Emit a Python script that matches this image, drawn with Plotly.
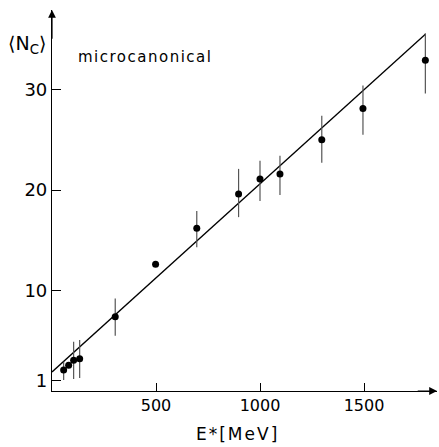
import plotly.graph_objects as go

# Data
energy = [56, 80, 104, 133, 304, 498, 696, 897, 1000, 1096, 1297, 1495, 1795]
n_c = [2.1, 2.55, 3.05, 3.2, 7.4, 12.6, 16.2, 19.6, 21.1, 21.6, 25.0, 28.1, 32.9]
err_plus = [0.8, 0, 1.85, 1.87, 1.8, 0, 1.7, 2.5, 1.8, 1.8, 2.4, 2.3, 2.7]
err_minus = [1.0, 0, 1.85, 1.9, 1.9, 0, 1.9, 2.3, 2.2, 2.1, 2.3, 2.6, 3.3]

line_e = [0, 1795]
line_n = [1.9, 35.5]

x_ticks = [500, 1000, 1500]
y_ticks = [1, 10, 20, 30]

FONT = "DejaVu Sans"

fig = go.Figure()
fig.add_trace(go.Scatter(x=line_e, y=line_n, mode="lines",
                         line=dict(color="black", width=1.3),
                         showlegend=False, hoverinfo="skip"))
fig.add_trace(go.Scatter(
    x=energy, y=n_c, mode="markers",
    marker=dict(color="black", size=7),
    error_y=dict(type="data", symmetric=False, array=err_plus,
                 arrayminus=err_minus, color="#555555", thickness=1.2, width=0),
    showlegend=False))

W, H = 439, 447
ml, mr, mt, mb = 52, 2, 10, 56
pw = W - ml - mr
ph = H - mt - mb
x_range = [0, pw / 0.208]
y_range = [0, ph / 10.05]


def paper_x(px):
    return (px - ml) / pw


def paper_y(py):
    return 1 - (py - mt) / ph


fig.update_layout(
    width=W, height=H,
    margin=dict(l=ml, r=mr, t=mt, b=mb),
    plot_bgcolor="white", paper_bgcolor="white",
    font=dict(family=FONT, color="black", size=16),
    xaxis=dict(range=x_range, tickvals=x_ticks, ticktext=[str(v) for v in x_ticks],
               ticks="inside", ticklen=8, tickcolor="black", tickwidth=1,
               showline=True, linecolor="black", linewidth=1.2,
               showgrid=False, zeroline=False, tickfont=dict(size=16)),
    yaxis=dict(range=y_range, tickvals=y_ticks, ticktext=[str(v) for v in y_ticks],
               ticks="inside", ticklen=9, tickcolor="black", tickwidth=1,
               showline=True, linecolor="black", linewidth=1.2,
               showgrid=False, zeroline=False, tickfont=dict(size=18)),
    annotations=[
        dict(x=0, y=y_range[1], ax=0, ay=y_range[1] - 3, xref="x", yref="y",
             axref="x", ayref="y", showarrow=True, arrowhead=2, arrowsize=1.3,
             arrowwidth=1.2, arrowcolor="black", text=""),
        dict(x=x_range[1], y=0, ax=x_range[1] - 100, ay=0, xref="x", yref="y",
             axref="x", ayref="y", showarrow=True, arrowhead=2, arrowsize=1.3,
             arrowwidth=1.2, arrowcolor="black", text=""),
        dict(x=paper_x(27), y=paper_y(45), xref="paper", yref="paper",
             text="⟨N<sub>C</sub>⟩", showarrow=False,
             font=dict(size=19, family=FONT), xanchor="center", yanchor="middle"),
        dict(x=paper_x(145), y=paper_y(57), xref="paper", yref="paper",
             text='<span style="letter-spacing:1.5px">microcanonical</span>',
             showarrow=False, font=dict(size=15, family=FONT),
             xanchor="center", yanchor="middle"),
        dict(x=paper_x(237), y=paper_y(434), xref="paper", yref="paper",
             text='<span style="letter-spacing:2px">E*[MeV]</span>',
             showarrow=False, font=dict(size=17, family=FONT),
             xanchor="center", yanchor="middle"),
    ],
)

fig.write_html("out.html")
